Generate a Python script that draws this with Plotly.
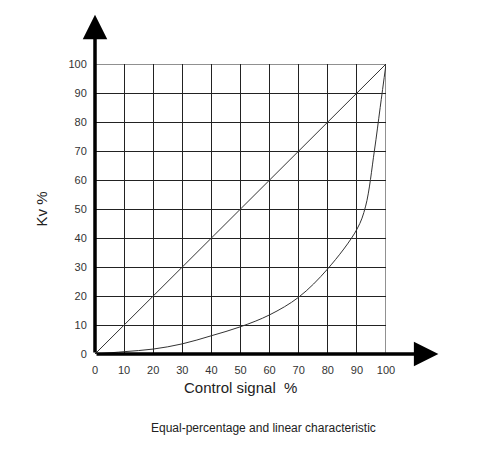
import plotly.graph_objects as go

# control signal (%) and Kv (%)
signal = [0, 10, 20, 30, 40, 50, 60, 70, 80, 90, 93, 96, 98, 100]
kv_equal = [0, 0.8, 1.7, 3.5, 6.3, 9.4, 13.5, 19.6, 29.4, 43, 51, 70, 85, 100]
lin_x = [0, 100]
lin_y = [0, 100]
ticks = list(range(0, 101, 10))

fig = go.Figure()
fig.add_trace(go.Scatter(x=lin_x, y=lin_y, mode="lines",
                         line=dict(color="#333", width=1), cliponaxis=False))
fig.add_trace(go.Scatter(x=signal, y=kv_equal, mode="lines", line_shape="spline",
                         line=dict(color="#333", width=1), cliponaxis=False))

# axis arrows
fig.add_annotation(x=118, y=0, ax=0, ay=0, xref="x", yref="y", axref="x", ayref="y",
                   text="", showarrow=True, arrowhead=2, arrowsize=1.4,
                   arrowwidth=3.5, arrowcolor="black")
fig.add_annotation(x=0, y=117, ax=0, ay=0, xref="x", yref="y", axref="x", ayref="y",
                   text="", showarrow=True, arrowhead=2, arrowsize=1.4,
                   arrowwidth=3.5, arrowcolor="black")

fig.add_annotation(x=-0.22, y=0.5, xref="paper", yref="paper", text="Kv %",
                   textangle=-90, showarrow=False, font=dict(size=15, color="#222"))
fig.add_annotation(x=0.5, y=-0.15, xref="paper", yref="paper", text="Control signal  %",
                   showarrow=False, font=dict(size=15, color="#222"))
fig.add_annotation(x=0.58, y=-0.285, xref="paper", yref="paper", xanchor="center",
                   text="Equal-percentage and linear characteristic",
                   showarrow=False, font=dict(size=12, color="#222"))

axis = dict(range=[0, 100], tickvals=ticks, showgrid=True, gridcolor="#222",
            gridwidth=1, zeroline=False, showline=False, mirror=False,
            tickfont=dict(size=11, color="#333"), fixedrange=True,
            ticks="outside", tickcolor="rgba(0,0,0,0)")
fig.update_xaxes(**axis, ticklen=6)
fig.update_yaxes(**axis, ticklen=5)
fig.update_layout(
    width=488, height=457, showlegend=False,
    font=dict(family="Liberation Sans, Arial"),
    plot_bgcolor="white", paper_bgcolor="white",
    margin=dict(l=87, r=110, t=56, b=111),
    shapes=[dict(type="rect", xref="x", yref="y", x0=0, y0=0, x1=100, y1=100,
                 line=dict(color="#222", width=1))],
)
fig.write_html("out.html")
